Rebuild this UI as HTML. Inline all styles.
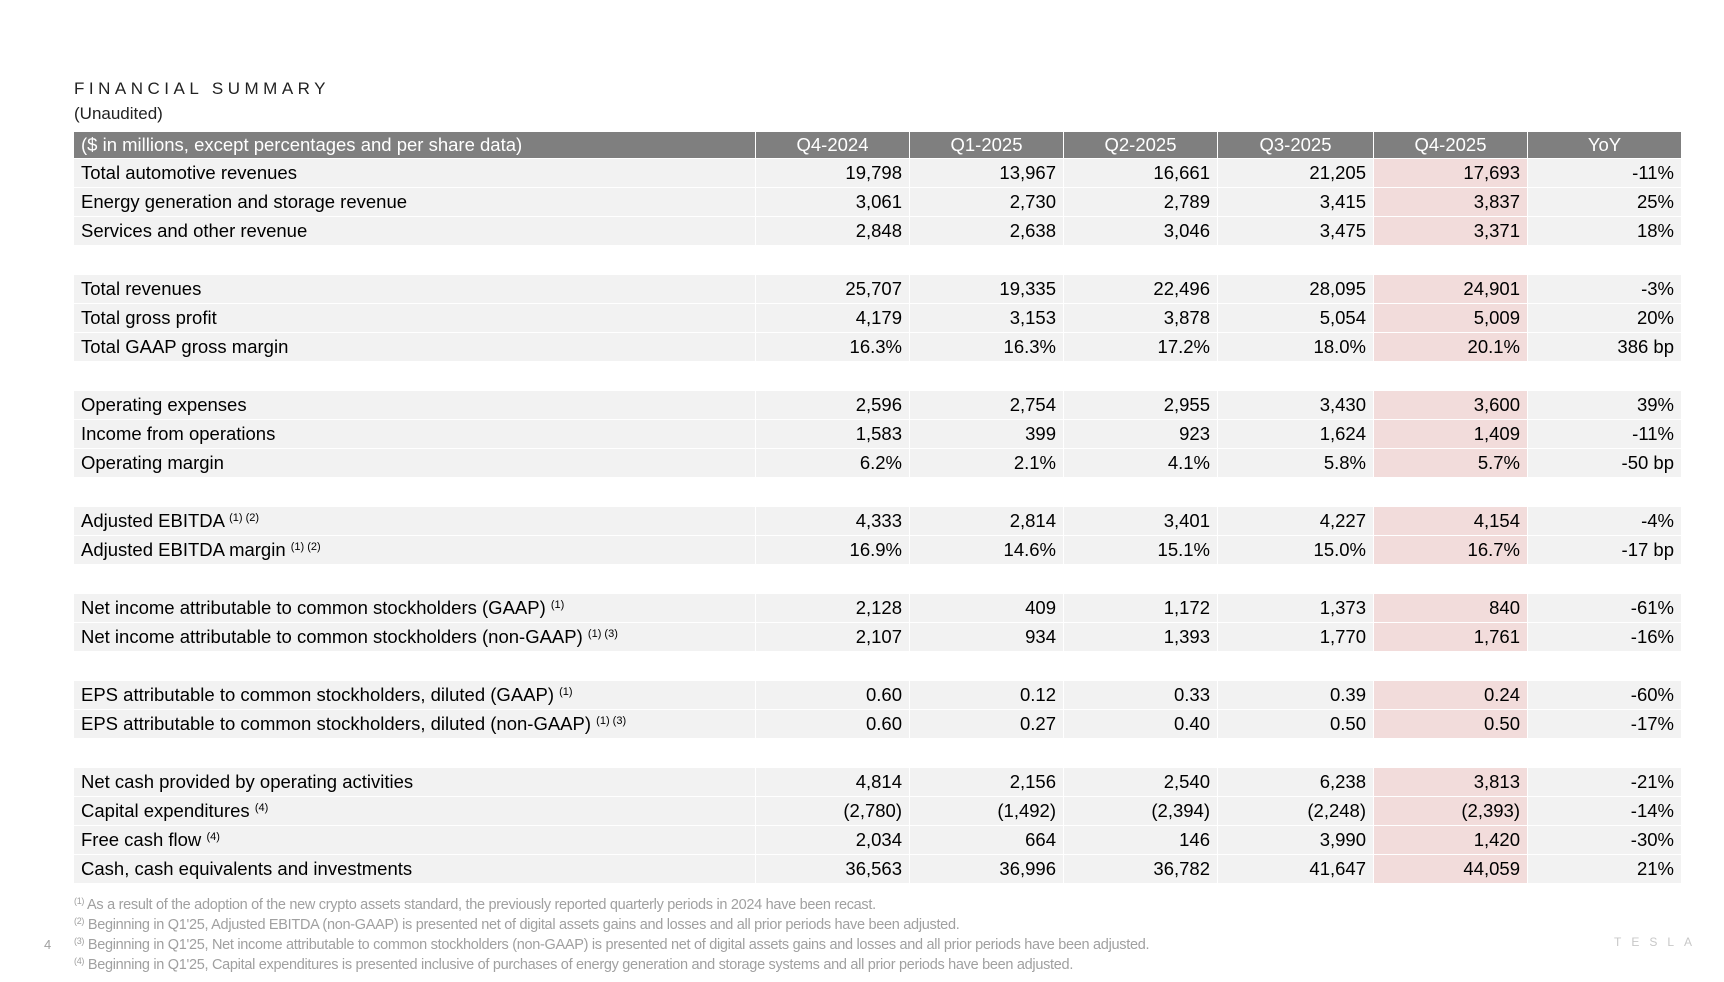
<!DOCTYPE html>
<html><head><meta charset="utf-8"><style>
body{margin:0;width:1724px;height:982px;background:#fff;position:relative;overflow:hidden;font-family:"Liberation Sans",sans-serif;color:#000}
.t{position:absolute;left:74px;top:79px;font-size:17px;letter-spacing:4.5px;color:#222}
.u{position:absolute;left:74px;top:104px;font-size:17px;color:#222}
table{position:absolute;left:74px;top:132px;border-collapse:separate;border-spacing:0;table-layout:fixed;width:1608px}
td,th{height:28px;padding:0 7px;font-size:18.5px;border-bottom:1px solid #fff;border-right:1px solid #fff;white-space:nowrap;line-height:28px}
th{background:#7f7f7f;color:#fff;font-weight:normal;text-align:center;height:26px;line-height:26px}
th:first-child{text-align:left}
td{background:#f2f2f2;text-align:right}
td:first-child{text-align:left}
td.h{background:#f2dcdb}
tr.g td{background:#fff}
sup{font-size:11px;vertical-align:6px;line-height:0}
.fn{position:absolute;left:74px;font-size:14.5px;color:#a0a0a0;white-space:nowrap;letter-spacing:-0.3px}
.fn sup{font-size:9px;vertical-align:5px}
.pg{position:absolute;left:44px;top:937px;font-size:13px;color:#a0a0a0}
.logo{position:absolute;left:1614px;top:935px;font-size:12px;letter-spacing:10px;color:#c8c8c8}
</style></head><body>
<div class="t">FINANCIAL SUMMARY</div>
<div class="u">(Unaudited)</div>
<table>
<colgroup><col style="width:682px"><col style="width:154px"><col style="width:154px"><col style="width:154px"><col style="width:156px"><col style="width:154px"><col style="width:154px"></colgroup>
<tr><th>($ in millions, except percentages and per share data)</th><th>Q4-2024</th><th>Q1-2025</th><th>Q2-2025</th><th>Q3-2025</th><th>Q4-2025</th><th>YoY</th></tr>
<tr><td>Total automotive revenues</td><td>19,798</td><td>13,967</td><td>16,661</td><td>21,205</td><td class="h">17,693</td><td>-11%</td></tr>
<tr><td>Energy generation and storage revenue</td><td>3,061</td><td>2,730</td><td>2,789</td><td>3,415</td><td class="h">3,837</td><td>25%</td></tr>
<tr><td>Services and other revenue</td><td>2,848</td><td>2,638</td><td>3,046</td><td>3,475</td><td class="h">3,371</td><td>18%</td></tr>
<tr class="g"><td colspan="7"></td></tr>
<tr><td>Total revenues</td><td>25,707</td><td>19,335</td><td>22,496</td><td>28,095</td><td class="h">24,901</td><td>-3%</td></tr>
<tr><td>Total gross profit</td><td>4,179</td><td>3,153</td><td>3,878</td><td>5,054</td><td class="h">5,009</td><td>20%</td></tr>
<tr><td>Total GAAP gross margin</td><td>16.3%</td><td>16.3%</td><td>17.2%</td><td>18.0%</td><td class="h">20.1%</td><td>386 bp</td></tr>
<tr class="g"><td colspan="7"></td></tr>
<tr><td>Operating expenses</td><td>2,596</td><td>2,754</td><td>2,955</td><td>3,430</td><td class="h">3,600</td><td>39%</td></tr>
<tr><td>Income from operations</td><td>1,583</td><td>399</td><td>923</td><td>1,624</td><td class="h">1,409</td><td>-11%</td></tr>
<tr><td>Operating margin</td><td>6.2%</td><td>2.1%</td><td>4.1%</td><td>5.8%</td><td class="h">5.7%</td><td>-50 bp</td></tr>
<tr class="g"><td colspan="7"></td></tr>
<tr><td>Adjusted EBITDA <sup>(1) (2)</sup></td><td>4,333</td><td>2,814</td><td>3,401</td><td>4,227</td><td class="h">4,154</td><td>-4%</td></tr>
<tr><td>Adjusted EBITDA margin <sup>(1) (2)</sup></td><td>16.9%</td><td>14.6%</td><td>15.1%</td><td>15.0%</td><td class="h">16.7%</td><td>-17 bp</td></tr>
<tr class="g"><td colspan="7"></td></tr>
<tr><td>Net income attributable to common stockholders (GAAP) <sup>(1)</sup></td><td>2,128</td><td>409</td><td>1,172</td><td>1,373</td><td class="h">840</td><td>-61%</td></tr>
<tr><td>Net income attributable to common stockholders (non-GAAP) <sup>(1) (3)</sup></td><td>2,107</td><td>934</td><td>1,393</td><td>1,770</td><td class="h">1,761</td><td>-16%</td></tr>
<tr class="g"><td colspan="7"></td></tr>
<tr><td>EPS attributable to common stockholders, diluted (GAAP) <sup>(1)</sup></td><td>0.60</td><td>0.12</td><td>0.33</td><td>0.39</td><td class="h">0.24</td><td>-60%</td></tr>
<tr><td>EPS attributable to common stockholders, diluted (non-GAAP) <sup>(1) (3)</sup></td><td>0.60</td><td>0.27</td><td>0.40</td><td>0.50</td><td class="h">0.50</td><td>-17%</td></tr>
<tr class="g"><td colspan="7"></td></tr>
<tr><td>Net cash provided by operating activities</td><td>4,814</td><td>2,156</td><td>2,540</td><td>6,238</td><td class="h">3,813</td><td>-21%</td></tr>
<tr><td>Capital expenditures <sup>(4)</sup></td><td>(2,780)</td><td>(1,492)</td><td>(2,394)</td><td>(2,248)</td><td class="h">(2,393)</td><td>-14%</td></tr>
<tr><td>Free cash flow <sup>(4)</sup></td><td>2,034</td><td>664</td><td>146</td><td>3,990</td><td class="h">1,420</td><td>-30%</td></tr>
<tr><td>Cash, cash equivalents and investments</td><td>36,563</td><td>36,996</td><td>36,782</td><td>41,647</td><td class="h">44,059</td><td>21%</td></tr>
</table>
<div class="fn" style="top:897px"><sup>(1)</sup> As a result of the adoption of the new crypto assets standard, the previously reported quarterly periods in 2024 have been recast.</div>
<div class="fn" style="top:917px"><sup>(2)</sup> Beginning in Q1'25, Adjusted EBITDA (non-GAAP) is presented net of digital assets gains and losses and all prior periods have been adjusted.</div>
<div class="fn" style="top:937px"><sup>(3)</sup> Beginning in Q1'25, Net income attributable to common stockholders (non-GAAP) is presented net of digital assets gains and losses and all prior periods have been adjusted.</div>
<div class="fn" style="top:957px"><sup>(4)</sup> Beginning in Q1'25, Capital expenditures is presented inclusive of purchases of energy generation and storage systems and all prior periods have been adjusted.</div>
<div class="pg">4</div>
<div class="logo">TESLA</div>
</body></html>
